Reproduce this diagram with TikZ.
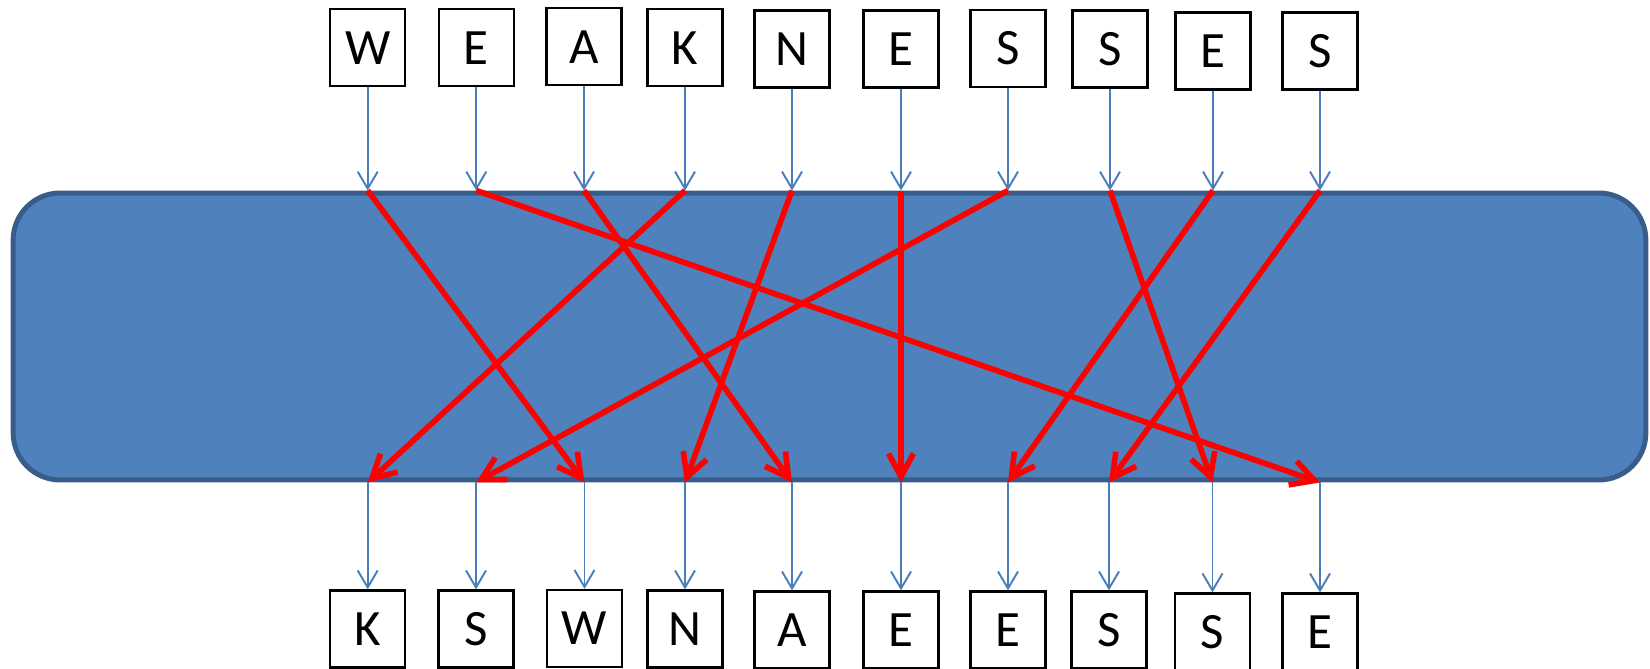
\documentclass[tikz,border=0pt]{standalone}
\usepackage{fontspec}
\newfontfamily\boxfont{Carlito}
\usetikzlibrary{arrows.meta}
\definecolor{bandfill}{RGB}{79,129,189}
\definecolor{bandedge}{RGB}{56,93,138}
\definecolor{flowblue}{RGB}{74,126,187}
\definecolor{swapred}{RGB}{255,0,0}
\tikzset{
  letter/.style={draw=black,fill=white,line width=1.3pt,minimum width=1.5cm,minimum height=1.54cm,
                 inner sep=0pt,font=\boxfont\fontsize{29}{31}\selectfont},
  band/.style={draw=bandedge,fill=bandfill,line width=2.85pt,rounded corners=0.94cm,
               minimum width=32.66cm,minimum height=5.74cm,inner sep=0pt},
  flow/.style={flowblue,line width=1.1pt,-{Straight Barb[length=0.34cm,width=0.4cm]}},
  swap/.style={swapred,line width=3.2pt,-{Straight Barb[length=0.46cm,width=0.5cm]}}
}
\begin{document}
\begin{tikzpicture}[x=0.02cm,y=0.02cm]
  \useasboundingbox (0,0) rectangle (1650,669);
  % Permutation block.
  \node[band] (band) at (829.5,332.5) {};

  % Input word.
  \node[letter] (t1) at (367.7,621.3) {W};
  \node[letter] (t2) at (476.3,621.3) {E};
  \node[letter] (t3) at (584,622.3) {A};
  \node[letter] (t4) at (685,621.3) {K};
  \node[letter] (t5) at (792,620) {N};
  \node[letter] (t6) at (901,620) {E};
  \node[letter] (t7) at (1008,620.5) {S};
  \node[letter] (t8) at (1110,620) {S};
  \node[letter] (t9) at (1213,618) {E};
  \node[letter] (t10) at (1320,618) {S};

  % Output word.
  \node[letter] (b1) at (367.7,40) {K};
  \node[letter] (b2) at (476,40) {S};
  \node[letter] (b3) at (584.5,40.5) {W};
  \node[letter] (b4) at (685,40) {N};
  \node[letter] (b5) at (792,39) {A};
  \node[letter] (b6) at (901,39) {E};
  \node[letter] (b7) at (1008,39) {E};
  \node[letter] (b8) at (1109,39) {S};
  \node[letter] (b9) at (1212.5,37) {S};
  \node[letter] (b10) at (1320,37) {E};

  % Letters in and out of the block.
  \foreach \i in {1,...,10} {
    \draw[flow] (t\i.south)--(t\i.south |- band.north);
    \draw[flow] (b\i.north |- band.south)--(b\i.north);
  }

  % Where each letter goes.
  \foreach \i/\j in {1/3,2/10,3/5,4/1,5/4,6/6,7/2,8/9,9/7,10/8}
    \draw[swap] (t\i.south |- band.north)--(b\j.north |- band.south);
\end{tikzpicture}
\end{document}
